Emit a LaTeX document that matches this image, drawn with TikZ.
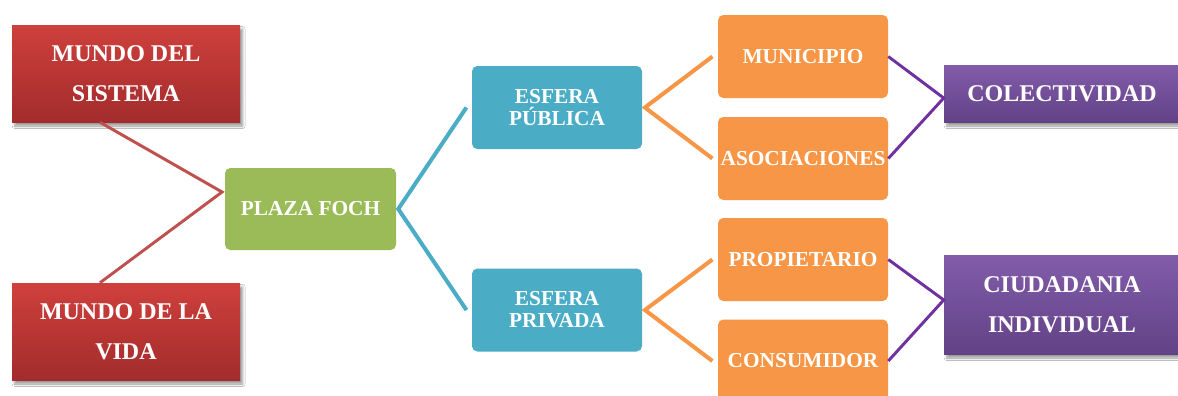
\documentclass[tikz,border=0pt]{standalone}
\usepackage{fontspec}
\setmainfont{Liberation Serif}
\usetikzlibrary{calc,shadows.blur}

\definecolor{redtop}{RGB}{207,64,60}
\definecolor{redbot}{RGB}{162,44,44}
\definecolor{redline}{RGB}{192,80,77}
\definecolor{violtop}{RGB}{130,92,170}
\definecolor{violbot}{RGB}{98,66,134}
\definecolor{violline}{RGB}{112,48,160}
\definecolor{greenbox}{RGB}{155,187,89}
\definecolor{bluebox}{RGB}{75,172,198}
\definecolor{orangebox}{RGB}{247,150,70}

\begin{document}
\begin{tikzpicture}[x=0.75pt,y=-0.75pt,
	box/.style={inner sep=0pt,text=white,font=\bfseries\fontsize{16}{16.5}\selectfont,align=center},
	flat/.style={box,rounded corners=4pt,minimum width=127.5pt,minimum height=62.25pt},
	deep/.style={box,font=\bfseries\fontsize{18}{30}\selectfont,minimum width=171pt,minimum height=72.75pt,
		blur shadow={shadow xshift=2pt,shadow yshift=-3pt,shadow blur steps=6}},
	redbox/.style={deep,top color=redtop,bottom color=redbot},
	violbox/.style={deep,top color=violtop,bottom color=violbot,minimum width=177pt}]
	\clip (0,0) rectangle (1178,396);
	\fill[white] (0,0) rectangle (1178,396);
	% left side
	\node[redbox] (msis) at (126,73.5) {MUNDO DEL\\SISTEMA};
	\node[redbox] (mvid) at (126,331.5) {MUNDO DE LA\\VIDA};
	\node[flat,fill=greenbox,minimum width=128.25pt,minimum height=61.5pt] (plaza) at (310.5,209) {PLAZA FOCH};
	% esferas
	\node[flat,fill=bluebox] (epub) at (557,107.5) {ESFERA\\PÚBLICA};
	\node[flat,fill=bluebox] (epri) at (557,310) {ESFERA\\PRIVADA};
	% actores
	\node[flat,fill=orangebox] (muni) at (803,56.5) {MUNICIPIO};
	\node[flat,fill=orangebox] (asoc) at (803,158.5) {ASOCIACIONES};
	\node[flat,fill=orangebox] (prop) at (803,259.5) {PROPIETARIO};
	\node[flat,fill=orangebox] (cons) at (803,361) {CONSUMIDOR};
	% resultado
	\node[violbox,minimum height=42.75pt] (colec) at (1062,93.5) {COLECTIVIDAD};
	\node[violbox,minimum height=74.25pt] (ciud) at (1062,304.5) {CIUDADANIA\\INDIVIDUAL};

	\coordinate (jred) at ([xshift=-2pt,yshift=12.75pt]plaza.west);
	\draw[redline,line width=2.2pt] ([xshift=-19.5pt]msis.south) -- (jred) -- ([xshift=-19.5pt]mvid.north);
	\draw[bluebox,line width=3pt] ([xshift=-4pt]epub.west) -- ([xshift=1.5pt]plaza.east) -- ([xshift=-4pt]epri.west);
	\draw[orangebox,line width=3pt] ([xshift=-4pt]muni.west) -- ([xshift=2pt]epub.east) -- ([xshift=-4pt]asoc.west);
	\draw[orangebox,line width=3pt] ([xshift=-4pt]prop.west) -- ([xshift=2pt]epri.east) -- ([xshift=-4pt]cons.west);
	\draw[violline,line width=2.2pt] (muni.east) -- ([yshift=-3.4pt]colec.west) -- (asoc.east);
	\draw[violline,line width=2.2pt] (prop.east) -- ([yshift=3.4pt]ciud.west) -- (cons.east);
\end{tikzpicture}
\end{document}
